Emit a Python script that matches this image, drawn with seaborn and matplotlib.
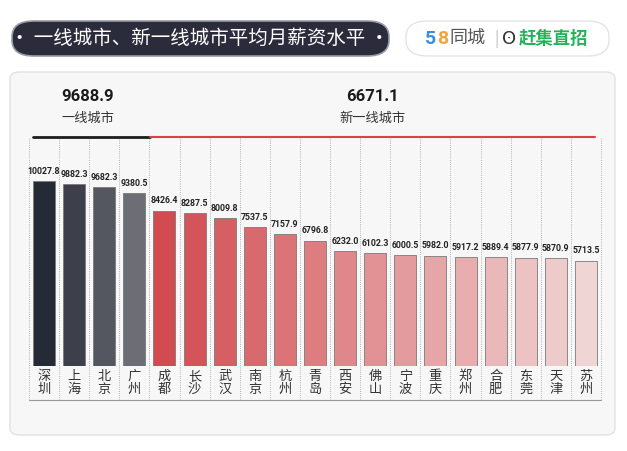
import seaborn as sns
import matplotlib.pyplot as plt
import pandas as pd
from matplotlib.patches import FancyBboxPatch
from matplotlib.transforms import blended_transform_factory

# 数据
ciudades_1 = ['深圳', '上海', '北京', '广州']
salario_1 = [10027.8, 9882.3, 9682.3, 9380.5]
ciudades_2 = ['成都', '长沙', '武汉', '南京', '杭州', '青岛', '西安', '佛山',
              '宁波', '重庆', '郑州', '合肥', '东莞', '天津', '苏州']
salario_2 = [8426.4, 8287.5, 8009.8, 7537.5, 7157.9, 6796.8, 6232.0, 6102.3,
             6000.5, 5982.0, 5917.2, 5889.4, 5877.9, 5870.9, 5713.5]
grupos = ['一线城市', '新一线城市']
promedios = [9688.9, 6671.1]
titulo = '• 一线城市、新一线城市平均月薪资水平 •'

df = pd.DataFrame({'ciudad': ciudades_1 + ciudades_2,
                   'salario': salario_1 + salario_2})

sns.set_style('white')
plt.rcParams['font.family'] = ['Noto Sans CJK SC', 'DejaVu Sans']
num_font = ['Roboto', 'DejaVu Sans']

paleta = (sns.blend_palette(['#232739', '#6a6c77'], len(ciudades_1))
          + sns.blend_palette(['#e8343b', '#ef8487', '#f5d0d0'], len(ciudades_2)))

fig = plt.figure(figsize=(6.27, 4.51), dpi=100)
W, H = 627, 451

# tarjeta de fondo
card = FancyBboxPatch((10 / W, 16 / H), 605 / W, 363 / H,
                      boxstyle='round,pad=0,rounding_size=0.015',
                      transform=fig.transFigure, facecolor='#f7f7f7',
                      edgecolor='#e2e2e2', lw=1, zorder=-5)
fig.patches.append(card)

# pastilla del título
pill = FancyBboxPatch((12 / W, (H - 56) / H), 377 / W, 35 / H,
                      boxstyle='round,pad=0,rounding_size=0.035',
                      transform=fig.transFigure, facecolor='#2a2c3c',
                      edgecolor='#9a9aa4', lw=1.2, zorder=1)
fig.patches.append(pill)
fig.text(200 / W, (H - 38.5) / H, titulo, color='white', fontsize=14,
         fontweight='medium', ha='center', va='center', zorder=2)

# logo
logo = FancyBboxPatch((406 / W, (H - 56) / H), 203 / W, 35 / H,
                      boxstyle='round,pad=0,rounding_size=0.035',
                      transform=fig.transFigure, facecolor='white',
                      edgecolor='#e4e4e4', lw=1, zorder=1)
fig.patches.append(logo)
ly = (H - 38.5) / H
fig.text(425 / W, ly, '5', color='#3b8fdc', fontsize=14, fontweight='bold',
         ha='left', va='center', family=num_font)
fig.text(437 / W, ly, '8', color='#f2a33a', fontsize=14, fontweight='bold',
         ha='left', va='center', family=num_font)
fig.text(449 / W, ly, '同城', color='#555555', fontsize=13, ha='left', va='center')
fig.text(494 / W, ly, '|', color='#bbbbbb', fontsize=11, ha='left', va='center')
fig.text(502 / W, ly, 'ʘ', color='#333333', fontsize=13, ha='left',
         va='center', family=['DejaVu Sans'])
fig.text(519 / W, ly, '赶集直招', color='#25b35a', fontsize=12.5,
         fontweight='bold', ha='left', va='center')

# ejes del gráfico
ax = fig.add_axes([29 / W, (H - 366) / H, 572 / W, 229 / H])
ax.patch.set_alpha(0)
sns.barplot(data=df, x='ciudad', y='salario', hue='ciudad', palette=paleta,
            legend=False, width=0.73, edgecolor='#7a7a7a', linewidth=0.6,
            ax=ax, zorder=3)
ax.set_xlim(-0.5, len(df) - 0.5)
ax.set_ylim(0, 12412)
for s in ax.spines.values():
    s.set_visible(False)
ax.set_yticks([])
ax.set_xticks(range(len(df)))
ax.set_xticklabels(['\n'.join(c) for c in df['ciudad']], fontsize=9.5,
                   linespacing=1.0, color='#333333')
ax.tick_params(axis='x', length=0, pad=3)
ax.set_xlabel('')
ax.set_ylabel('')

# valores sobre las barras
for i, v in enumerate(df['salario']):
    ax.text(i, v + 280, f'{v:.1f}', ha='center', va='bottom', fontsize=6.3,
            fontweight='bold', color='#222222', family=num_font, zorder=4)

# separadores punteados
for i in range(len(df) + 1):
    ax.axvline(i - 0.5, ymin=-0.148, ymax=1, color='#b5b5b5', lw=0.7,
               ls=(0, (1, 1.2)), clip_on=False, zorder=1)

trans = blended_transform_factory(ax.transData, ax.transAxes)
n1 = len(ciudades_1)
ax.plot([-0.37, n1 - 0.48], [1, 1], color='#1d1d1d', lw=2, transform=trans,
        clip_on=False, zorder=5)
ax.plot([n1 - 0.48, len(df) - 0.7], [1, 1], color='#d8434b', lw=1.5,
        transform=trans, clip_on=False, zorder=5)
ax.plot([-0.5, len(df) - 0.5], [-0.148, -0.148], color='#9a9a9a', lw=0.8,
        transform=trans, clip_on=False)

# encabezados de grupo
centros = [1.46, 10.9]
for cx, g, p in zip(centros, grupos, promedios):
    ax.text(cx, 1.175, f'{p:.1f}', ha='center', va='center', fontsize=12,
            fontweight='bold', color='#1a1a1a', family=num_font,
            transform=trans, clip_on=False)
    ax.text(cx, 1.083, g, ha='center', va='center', fontsize=9.5,
            color='#333333', transform=trans, clip_on=False)

fig.savefig('out.png', dpi=100)
